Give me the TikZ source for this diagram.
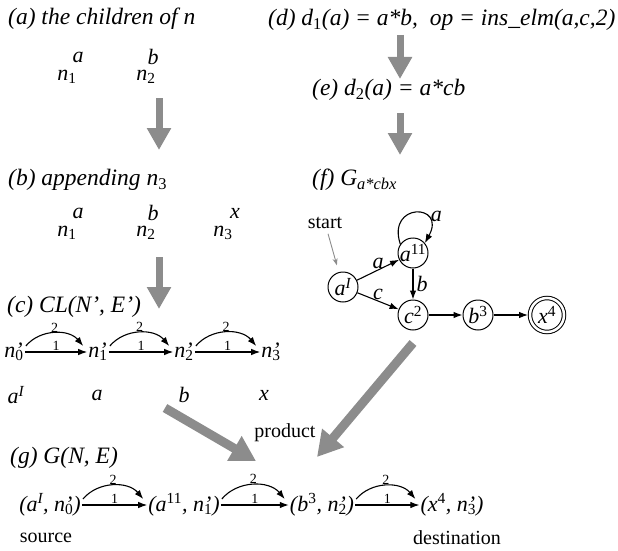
\documentclass[tikz,border=0pt]{standalone}
\usepackage{fontspec}
\setmainfont{Liberation Serif}
\usetikzlibrary{positioning,arrows.meta}
\newcommand{\lowidx}[1]{\textsubscript{\upshape #1}}
\newcommand{\hiidx}[1]{\textsuperscript{\upshape #1}}
\newcommand{\nprm}[1]{n\rlap{’}\lowidx{#1}}
\tikzset{
  figtitle/.style={anchor=west, inner sep=0pt, font=\fontsize{23.5}{26}\selectfont\itshape},
  figmath/.style={inner sep=1pt, font=\fontsize{22}{24}\selectfont\itshape},
  figtag/.style={inner sep=1pt, font=\fontsize{20}{22}\selectfont},
  figweight/.style={inner sep=0.5pt, font=\fontsize{14}{15}\selectfont},
  figedge/.style={-{Latex[length=9pt,width=6.5pt]}, line width=1.1pt},
  figflow/.style={-{Triangle[length=22pt,width=23pt]}, line width=7pt, black!45},
  figpointer/.style={-{Stealth[length=7pt,width=5pt]}, line width=0.9pt, black!45},
  figstate/.style={circle, draw, line width=1pt, minimum size=30pt, inner sep=-2pt,
    font=\fontsize{22}{24}\selectfont\itshape},
}

\begin{document}
\begin{tikzpicture}[x=1pt,y=1pt]
  \useasboundingbox (0,0) rectangle (618,-551);
  % (a) children
  \node[figtitle] (ta) at (8,-19) {(a) the children of n};
  \node[figmath] (an1) at (67,-77) {n\lowidx{1}};
  \node[figmath] (an2) at (146,-77) {n\lowidx{2}};
  \node[figmath] (an1l) at (78,-57) {a};
  \node[figmath] (an2l) at (153,-57) {b};
  \coordinate (fa0) at (159,-98);
  \coordinate (fa1) at (159,-150);
  \draw[figflow] (fa0) -- (fa1);
  % (b) appending
  \node[figtitle] (tb) at (8,-180) {(b) appending n\lowidx{3}};
  \node[figmath] (bn1) at (67,-233) {n\lowidx{1}};
  \node[figmath] (bn2) at (146,-233) {n\lowidx{2}};
  \node[figmath] (bn3) at (223,-233) {n\lowidx{3}};
  \node[figmath] (bn1l) at (78,-213) {a};
  \node[figmath] (bn2l) at (153,-213) {b};
  \node[figmath] (bn3l) at (235,-213) {x};
  \coordinate (fb0) at (159,-257);
  \coordinate (fb1) at (159,-309);
  \draw[figflow] (fb0) -- (fb1);
  % (c) chain
  \node[figtitle] (tc) at (7,-307) {(c) CL(N’, E’)};
  \node[figmath] (c0) at (14,-352) {\nprm{0}};
  \node[figmath] (c1) at (98,-352) {\nprm{1}};
  \node[figmath] (c2) at (184,-352) {\nprm{2}};
  \node[figmath] (c3) at (271,-352) {\nprm{3}};
  \foreach \p/\q in {c0/c1,c1/c2,c2/c3}{
    \draw[figedge] (\p) -- node[figweight, above]{1} (\q);
    \draw[figedge] ([xshift=1pt,yshift=6pt]\p.east) to[bend left=50]
      node[figweight, above]{2} ([xshift=-4pt,yshift=6pt]\q.west);
  }
  \node[figmath] (cl0) at (16,-395) {a\textsuperscript{I}};
  \node[figmath] (cl1) at (97,-395) {a};
  \node[figmath] (cl2) at (184,-395) {b};
  \node[figmath] (cl3) at (264,-395) {x};
  % (d)-(f)
  \node[figtitle] (td) at (268,-20) {(d) d\lowidx{1}(a) = a*b,\ \ op = ins\_elm(a,c,2)};
  \coordinate (fd0) at (400,-35);
  \coordinate (fd1) at (400,-79);
  \draw[figflow] (fd0) -- (fd1);
  \node[figtitle] (te) at (312,-90) {(e) d\lowidx{2}(a) = a*cb};
  \coordinate (fe0) at (400,-113);
  \coordinate (fe1) at (400,-155);
  \draw[figflow] (fe0) -- (fe1);
  \node[figtitle] (tf) at (312,-180) {(f) G\textsubscript{a*cbx}};
  % automaton
  \node[figtag] (start) at (325,-223) {start};
  \node[figstate] (qa) at (343,-287) {a\textsuperscript{I}};
  \node[figstate] (qa2) at (413,-253) {a\hiidx{11}};
  \node[figstate] (qc) at (413,-315) {c\hiidx{2}};
  \node[figstate] (qb) at (478,-315) {b\hiidx{3}};
  \node[figstate, double, double distance=2.5pt, minimum size=34pt] (qx) at (547,-315) {x\hiidx{4}};
  \draw[figpointer, shorten <=4pt, shorten >=7pt] (start) -- (qa);
  \draw[figedge] (qa) -- node[figmath, above]{a} (qa2);
  \draw[figedge] (qa) -- node[figmath, above]{c} (qc);
  \draw[figedge] (qa2) -- node[figmath, right=2pt]{b} (qc);
  \draw[figedge] (qa2.145) .. controls +(-14,42) and +(22,40) .. node[figmath, pos=0.8, above right]{a} (qa2.40);
  \draw[figedge] (qc) -- (qb);
  \draw[figedge, shorten >=1.5pt] (qb) -- (qx);
  % product
  \coordinate (pl0) at (165,-408);
  \coordinate (pl1) at (256,-461);
  \coordinate (pr0) at (413,-343);
  \coordinate (pr1) at (317,-457);
  \draw[figflow, line width=9pt, -{Triangle[length=25pt,width=27pt]}] (pl0) -- (pl1);
  \draw[figflow, line width=9pt, -{Triangle[length=25pt,width=27pt]}] (pr0) -- (pr1);
  \node[figtag] (prod) at (285,-433) {product};
  % (g) result
  \node[figtitle] (tg) at (10,-458) {(g) G(N, E)};
  \node[figmath] (g0) at (50,-505) {(a\textsuperscript{I}, \nprm{0})};
  \node[figmath] (g1) at (184,-505) {(a\hiidx{11}, \nprm{1})};
  \node[figmath] (g2) at (322,-505) {(b\hiidx{3}, \nprm{2})};
  \node[figmath] (g3) at (452,-505) {(x\hiidx{4}, \nprm{3})};
  \foreach \p/\q in {g0/g1,g1/g2,g2/g3}{
    \draw[figedge] (\p) -- node[figweight, above]{1} (\q);
    \draw[figedge] ([xshift=1pt,yshift=6pt]\p.east) to[bend left=50]
      node[figweight, above]{2} ([xshift=-4pt,yshift=6pt]\q.west);
  }
  \node[figtag] (src) at (46,-538) {source};
  \node[figtag] (dst) at (457,-538) {destination};
\end{tikzpicture}
\end{document}
